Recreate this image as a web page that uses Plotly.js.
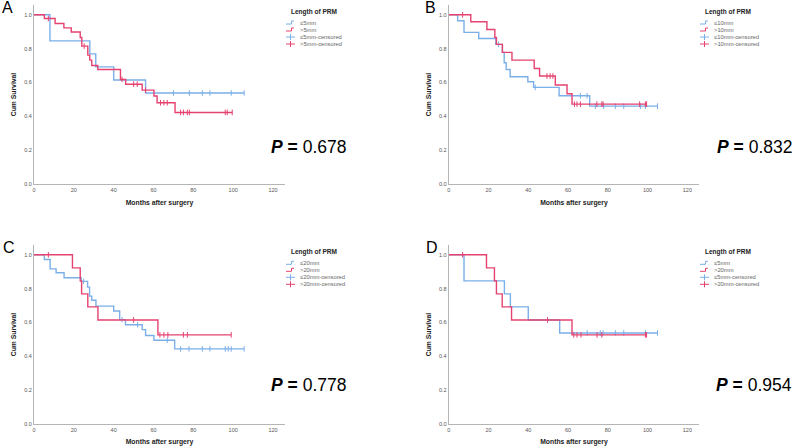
<!DOCTYPE html>
<html>
<head>
<meta charset="utf-8">
<script src="https://cdn.plot.ly/plotly-3.0.1.min.js"></script>
<style>html,body{margin:0;padding:0;background:#fff}#chart{width:796px;height:446px}</style>
</head>
<body>
<div id="chart"></div>
<script>
// ---------- DATA ----------
const xTicks = [0, 20, 40, 60, 80, 100, 120];
const yTicks = [0, 0.2, 0.4, 0.6, 0.8, 1.0];
const yTickText = ["0.0", "0.2", "0.4", "0.6", "0.8", "1.0"];
const panelLetters = ["A", "B", "C", "D"];
const pValues = ["0.678", "0.832", "0.778", "0.954"];
const legendTitle = "Length of PRM";
const groupNamesLow = ["≤5mm", "≤10mm", "≤20mm", "≤5mm"];
const groupNamesHigh = [">5mm", ">10mm", ">20mm", ">20mm"];

// Panel A
const eventsA_low = [8, 28, 31, 40, 56];
const survA_low = [0.846, 0.769, 0.692, 0.615, 0.538];
const censA_low = [70, 78, 84.5, 88.3, 99, 105.5];
const eventsA_high = [5.2, 10.6, 15, 18.7, 23.2, 24, 27, 28, 29, 32, 43.4, 46, 54.3, 60.2, 61.8, 70.8];
const survA_high = [0.978, 0.949, 0.923, 0.898, 0.866, 0.815, 0.762, 0.732, 0.70, 0.677, 0.618, 0.59, 0.555, 0.52, 0.48, 0.423];
const censA_high = [7.2, 25.2, 44.2, 50, 51.8, 56, 63.5, 65.2, 66.9, 73.6, 75, 77, 78, 96, 97, 99.5];

// Panel B
const eventsB_low = [4.5, 7.7, 15.1, 23.7, 27, 27.9, 28.9, 30.9, 39.8, 42.7, 55.5, 70.9];
const survB_low = [0.965, 0.896, 0.86, 0.825, 0.778, 0.717, 0.677, 0.634, 0.604, 0.571, 0.522, 0.46];
const censB_low = [25, 43.5, 66.2, 69.6, 73.7, 77.9, 83.8, 88, 96.4, 98.9, 105];
const eventsB_high = [11.1, 19.2, 23.2, 24, 27, 31.8, 43, 45.7, 53.6, 59.5, 62];
const survB_high = [0.959, 0.913, 0.866, 0.825, 0.778, 0.732, 0.683, 0.638, 0.585, 0.533, 0.472];
const censB_high = [7, 49.4, 51, 52.4, 63.2, 64.5, 66.2, 74.5, 77, 77.6, 96, 98.9, 99.5];

// Panel C
const eventsC_low = [5.2, 8.1, 11.1, 15.1, 23.7, 26.9, 27.9, 29, 31.1, 40, 43, 45.9, 54.3, 56, 60.2, 70.6];
const survC_low = [0.972, 0.917, 0.894, 0.864, 0.843, 0.809, 0.756, 0.731, 0.697, 0.668, 0.617, 0.587, 0.558, 0.523, 0.495, 0.444];
const censC_low = [24.9, 44.2, 52, 66.9, 73.6, 77.8, 84.5, 88.3, 96, 97.5, 99, 105.5];
const eventsC_high = [19.3, 23.2, 23.9, 27, 32.1, 62.2];
const survC_high = [0.923, 0.846, 0.769, 0.692, 0.615, 0.527];
const censC_high = [7.2, 50, 63.2, 65.2, 67.2, 75, 77, 99];

// Panel D
const eventsD_low = [7.7, 28, 31, 40, 55.8];
const survD_low = [0.846, 0.769, 0.692, 0.615, 0.538];
const censD_low = [69.6, 76.2, 77.6, 83.8, 88, 98.9, 105];
const eventsD_high = [19, 23, 24, 26.9, 31.6, 62];
const survD_high = [0.923, 0.846, 0.769, 0.692, 0.615, 0.527];
const censD_high = [7, 49.7, 62.9, 64.5, 66.5, 74.6, 77, 98.9, 99.5];

// ---------- STYLE ----------
const W = 796, H = 446;
const BLUE = "#7aafe8";
const RED = "#e5426f";
const FONT = "Liberation Sans, Arial, sans-serif";
const px = v => v / W;
const py = v => 1 - v / H;

const panels = [
  {ev: [eventsA_low, eventsA_high], sv: [survA_low, survA_high], cs: [censA_low, censA_high],
   x0: 34, x1: 285, yTop: 5, yBot: 184, legX: 286, legY: 12, pX: 348, pY: 147, lx: 0, ly: 7.5},
  {ev: [eventsB_low, eventsB_high], sv: [survB_low, survB_high], cs: [censB_low, censB_high],
   x0: 448.7, x1: 699.3, yTop: 5, yBot: 184, legX: 700, legY: 12, pX: 794, pY: 147, lx: 423, ly: 7.5},
  {ev: [eventsC_low, eventsC_high], sv: [survC_low, survC_high], cs: [censC_low, censC_high],
   x0: 34, x1: 285, yTop: 245, yBot: 424, legX: 286, legY: 252.3, pX: 348, pY: 385, lx: 1, ly: 247},
  {ev: [eventsD_low, eventsD_high], sv: [survD_low, survD_high], cs: [censD_low, censD_high],
   x0: 448.7, x1: 699.3, yTop: 245, yBot: 424, legX: 700, legY: 252.3, pX: 794, pY: 385, lx: 424, ly: 247}
];

function survAt(events, surv, t) {
  let s = 1;
  for (let i = 0; i < events.length; i++) if (events[i] <= t) s = surv[i];
  return s;
}

const traces = [];
const layout = {
  width: W, height: H,
  margin: {l: 0, r: 0, t: 0, b: 0},
  paper_bgcolor: "#fff", plot_bgcolor: "#fff",
  showlegend: false,
  font: {family: FONT},
  annotations: [], shapes: []
};

panels.forEach((p, i) => {
  const k = i === 0 ? "" : String(i + 1);
  const xa = "x" + k, ya = "y" + k;
  const colors = [BLUE, RED];
  for (let g = 0; g < 2; g++) {
    const ev = p.ev[g], sv = p.sv[g], cs = p.cs[g];
    const end = Math.max(ev[ev.length - 1], cs.length ? cs[cs.length - 1] : 0);
    traces.push({
      type: "scatter", mode: "lines", xaxis: xa, yaxis: ya,
      x: [0].concat(ev, [end]), y: [1].concat(sv, [sv[sv.length - 1]]),
      line: {shape: "hv", color: colors[g], width: 1.4},
      hoverinfo: "skip"
    });
    traces.push({
      type: "scatter", mode: "markers", xaxis: xa, yaxis: ya,
      x: cs, y: cs.map(t => survAt(ev, sv, t)),
      marker: {symbol: "line-ns", size: 4, line: {color: colors[g], width: 1}},
      hoverinfo: "skip"
    });
  }
  layout["xaxis" + k] = {
    domain: [px(p.x0), px(p.x1)], anchor: ya, range: [0, 126],
    showline: true, linecolor: "#b5b5b5", linewidth: 1,
    showgrid: false, zeroline: false, ticks: "",
    tickvals: xTicks, tickfont: {size: 5.5, color: "#555", family: FONT},
    title: {text: "Months after surgery", font: {size: 6.8, color: "#222", family: FONT, weight: "bold"}, standoff: 8},
    fixedrange: true
  };
  layout["yaxis" + k] = {
    domain: [py(p.yBot), py(p.yTop)], anchor: xa, range: [0, 1.058],
    showline: true, linecolor: "#b5b5b5", linewidth: 1,
    showgrid: false, zeroline: false, ticks: "",
    tickvals: yTicks, ticktext: yTickText, tickfont: {size: 5.5, color: "#555", family: FONT},
    title: {text: "Cum Survival", font: {size: 6.8, color: "#222", family: FONT, weight: "bold"}, standoff: 6},
    fixedrange: true
  };
  // panel letter
  layout.annotations.push({xref: "paper", yref: "paper", x: px(p.lx), y: py(p.ly), xanchor: "left", yanchor: "middle",
    text: panelLetters[i], showarrow: false, font: {size: 16, color: "#000", family: FONT}});
  // P value
  layout.annotations.push({xref: "paper", yref: "paper", x: px(p.pX), y: py(p.pY), xanchor: "right", yanchor: "middle",
    text: "<b><i>P</i> =</b> " + pValues[i], showarrow: false, font: {size: 17.5, color: "#000", family: FONT}});
  // legend
  layout.annotations.push({xref: "paper", yref: "paper", x: px(p.legX + 3), y: py(p.legY), xanchor: "left", yanchor: "middle",
    text: "<b>" + legendTitle + "</b>", showarrow: false, font: {size: 6.5, color: "#222", family: FONT}});
  const labels = [groupNamesLow[i], groupNamesHigh[i], groupNamesLow[i] + "-censored", groupNamesHigh[i] + "-censored"];
  const lcol = [BLUE, RED, BLUE, RED];
  labels.forEach((lab, r) => {
    const cy = p.legY + 11 + r * 7;
    const gx = p.legX;
    layout.annotations.push({xref: "paper", yref: "paper", x: px(gx + 12), y: py(cy), xanchor: "left", yanchor: "middle",
      text: lab, showarrow: false, font: {size: 5.8, color: "#666", family: FONT}});
    if (r < 2) {
      layout.shapes.push({type: "path", xref: "paper", yref: "paper",
        path: `M ${px(gx)} ${py(cy + 1)} L ${px(gx + 5.5)} ${py(cy + 1)} L ${px(gx + 5.5)} ${py(cy - 2)} L ${px(gx + 8)} ${py(cy - 2)}`,
        line: {color: lcol[r], width: 1}});
    } else {
      layout.shapes.push({type: "line", xref: "paper", yref: "paper", x0: px(gx), x1: px(gx + 9), y0: py(cy), y1: py(cy),
        line: {color: lcol[r], width: 1}});
      layout.shapes.push({type: "line", xref: "paper", yref: "paper", x0: px(gx + 4.5), x1: px(gx + 4.5), y0: py(cy - 3), y1: py(cy + 3),
        line: {color: lcol[r], width: 1}});
    }
  });
});

Plotly.newPlot("chart", traces, layout, {staticPlot: true, displayModeBar: false});
</script>
</body>
</html>
